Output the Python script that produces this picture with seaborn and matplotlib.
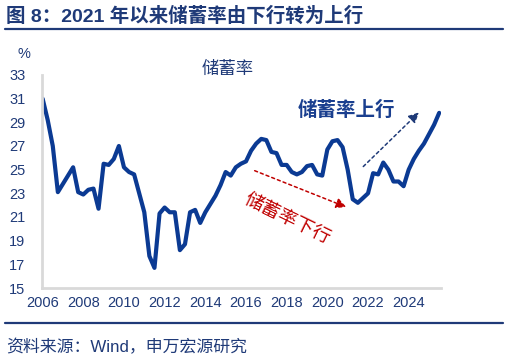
import pandas as pd
import seaborn as sns
import matplotlib
matplotlib.use("Agg")
from matplotlib import pyplot as plt

# quarterly household savings rate, 2006Q1 - 2025Q3 (%)
quarters = pd.period_range("2006Q1", "2025Q3", freq="Q")
savings_rate = [
    31.0, 29.2, 27.0, 23.1, 23.8, 24.5, 25.2, 23.1, 22.9, 23.3,
    23.4, 21.7, 25.5, 25.4, 25.9, 27.0, 25.2, 24.8, 24.6, 23.0,
    21.4, 17.7, 16.7, 21.3, 21.8, 21.4, 21.4, 18.2, 18.7, 21.4,
    21.6, 20.5, 21.4, 22.1, 22.8, 23.7, 24.8, 24.5, 25.2, 25.5,
    25.7, 26.6, 27.2, 27.6, 27.5, 26.5, 26.4, 25.4, 25.4, 24.8,
    24.6, 24.8, 25.3, 25.4, 24.6, 24.5, 26.7, 27.4, 27.5, 26.9,
    25.0, 22.5, 22.2, 22.6, 23.0, 24.7, 24.6, 25.6, 25.0, 24.0,
    24.0, 23.6, 25.0, 25.9, 26.6, 27.2, 28.0, 28.8, 29.8,
]
year_ticks = list(range(2006, 2025, 2))
y_ticks = list(range(15, 34, 2))

title = "图 8：2021 年以来储蓄率由下行转为上行"
source = "资料来源：Wind，申万宏源研究"

navy = "#1f3a78"
line_blue = "#0b3a93"
red = "#c00000"

df = pd.DataFrame({
    "x": [q.year + (q.quarter - 1) / 4 for q in quarters],
    "rate": savings_rate,
})

sns.set_style("white")
plt.rcParams["font.family"] = ["Liberation Sans", "Noto Sans CJK SC", "DejaVu Sans"]

fig = plt.figure(figsize=(5.06, 3.60), dpi=100)
ax = fig.add_axes([0.083, 0.2, 0.789, 0.5917])

sns.lineplot(data=df, x="x", y="rate", ax=ax, color=line_blue, linewidth=3.0)

ax.set_xlim(2005.97, 2025.6)
ax.set_ylim(15, 33)
ax.set_xticks(year_ticks)
ax.set_yticks(y_ticks)
ax.set_xlabel("")
ax.set_ylabel("")
for s in ["top", "right"]:
    ax.spines[s].set_visible(False)
for s in ["left", "bottom"]:
    ax.spines[s].set_color("#d9d9d9")
    ax.spines[s].set_linewidth(2)
ax.tick_params(axis="both", direction="in", length=4, width=1, color="#c8c8c8",
               labelsize=10.5, labelcolor=navy)
ax.tick_params(axis="y", pad=12)
ax.tick_params(axis="x", pad=6)

ax.text(-0.045, 1.1, "%", transform=ax.transAxes, ha="center", va="center",
        fontsize=10.5, color=navy)
ax.text(0.465, 1.03, "储蓄率", transform=ax.transAxes, ha="center", va="center",
        fontsize=12.5, color=navy)

# annotations
ax.annotate("", xy=(2024.6, 30.0), xytext=(2021.67, 25.1),
            arrowprops=dict(arrowstyle="-|>,head_length=0.6,head_width=0.3",
                            linestyle=(0, (2, 2)), color=navy, lw=1.1))
ax.text(2020.95, 30.05, "储蓄率上行", ha="center", va="center", fontsize=14,
        fontweight="bold", color="#1a3f8f")
ax.annotate("", xy=(2021.06, 21.75), xytext=(2016.3, 25.0),
            arrowprops=dict(arrowstyle="-|>,head_length=0.6,head_width=0.3",
                            linestyle=(0, (2, 2)), color=red, lw=1.1))
ax.text(2018.0, 20.75, "储蓄率下行", ha="center", va="center", fontsize=13.5,
        color=red, rotation=-26, rotation_mode="anchor")

fig.text(0.012, 0.955, title, ha="left", va="center", fontsize=14,
         fontweight="bold", color=navy)
fig.add_artist(plt.Line2D([0.01, 0.995], [0.919, 0.919], color=navy, lw=1.6))
fig.add_artist(plt.Line2D([0.01, 0.995], [0.103, 0.103], color=navy, lw=1.6))
fig.text(0.012, 0.036, source, ha="left", va="center", fontsize=12.2, color=navy)

fig.savefig("out.png", dpi=100)
